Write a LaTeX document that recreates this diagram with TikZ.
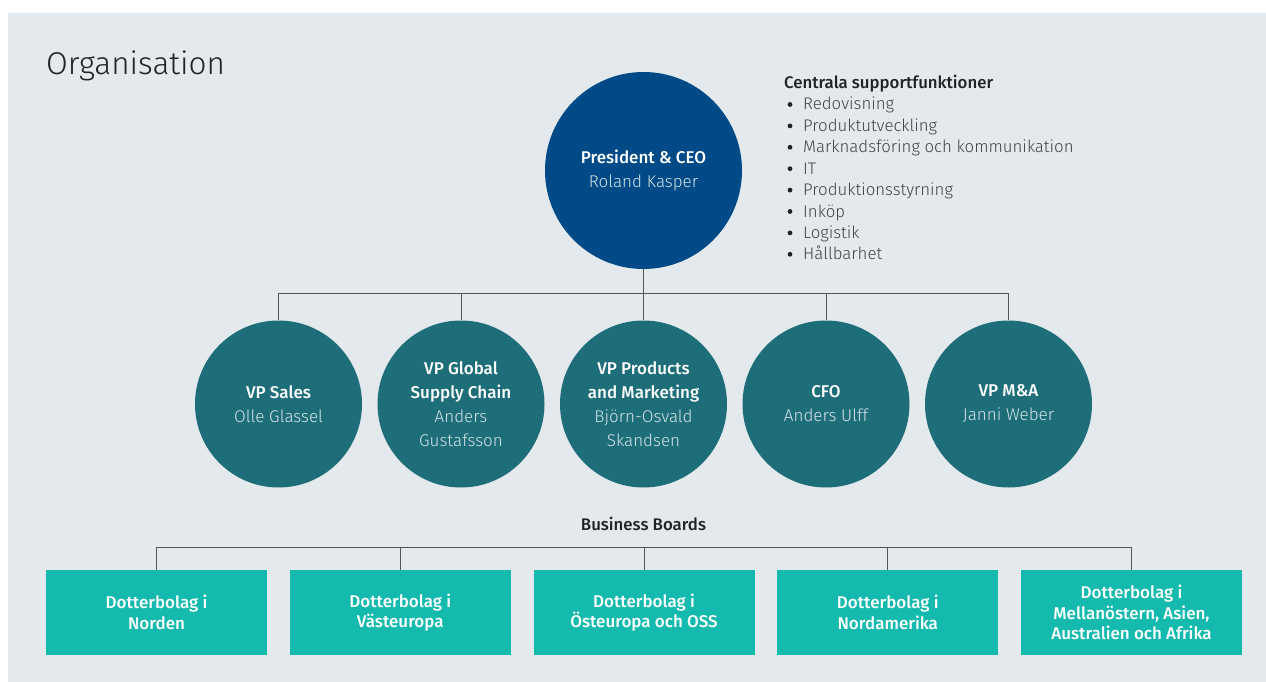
\documentclass[tikz,border=0pt]{standalone}
\usepackage{fontspec}
\setmainfont{Fira Sans}[UprightFont=* Light, BoldFont=* Medium]
\definecolor{bgc}{HTML}{E3E9EC}
\definecolor{ceoc}{HTML}{004A87}
\definecolor{vpc}{HTML}{1E6E7A}
\definecolor{boxc}{HTML}{14BAAE}
\definecolor{linec}{HTML}{555555}
\definecolor{namec}{HTML}{D3E3E6}
\definecolor{titlec}{HTML}{222222}
\begin{document}
\begin{tikzpicture}[x=1pt,y=-1pt,
  ceostyle/.style={circle,fill=ceoc,draw=none,minimum size=197pt,inner sep=0pt,align=center,text=white,font=\fontsize{17}{24}\selectfont},
  vpstyle/.style={circle,fill=vpc,draw=none,minimum size=167pt,inner sep=0pt,align=center,text=white,font=\fontsize{17}{24}\selectfont},
  boxstyle/.style={rectangle,fill=boxc,draw=none,minimum width=221pt,minimum height=85pt,inner sep=0pt,align=center,text=white,font=\bfseries\fontsize{17}{20.5}\selectfont},
  conn/.style={draw=linec,line width=1pt},
  itemtext/.style={anchor=base west,inner sep=0pt,text=titlec!85!white,font=\fontsize{16.8}{20}\selectfont},
]
\useasboundingbox (0,0) rectangle (1266,682);
\fill[white] (0,0) rectangle (1266,682);
\fill[bgc] (8,13) rectangle (1266,682);

\node[anchor=base west,inner sep=0pt,text=titlec,font=\fontsize{31.5}{36}\selectfont] (title) at (46,75) {Organisation};

% CEO
\node[ceostyle] (ceo) at (643.5,170.5) {\textbf{President \& CEO}\\{\color{namec}Roland Kasper}};

% support functions
\node[anchor=base west,inner sep=0pt,text=titlec,font=\bfseries\fontsize{16.8}{20}\selectfont] (sup) at (784,89) {Centrala supportfunktioner};
\foreach \t [count=\i] in {Redovisning,Produktutveckling,Marknadsföring och kommunikation,IT,Produktionsstyrning,Inköp,Logistik,Hållbarhet}{
  \node[itemtext] (it\i) at (803,{110+(\i-1)*21.4}) {\t};
  \fill[titlec] (790,{104.5+(\i-1)*21.4}) circle (2.4pt);
}

% VPs
\node[vpstyle] (vp1) at (278.5,404) {\textbf{VP Sales}\\{\color{namec}Olle Glassel}};
\node[vpstyle] (vp2) at (461,404) {\textbf{VP Global}\\\textbf{Supply Chain}\\{\color{namec}Anders}\\{\color{namec}Gustafsson}};
\node[vpstyle] (vp3) at (643.5,404) {\textbf{VP Products}\\\textbf{and Marketing}\\{\color{namec}Björn-Osvald}\\{\color{namec}Skandsen}};
\node[vpstyle] (vp4) at (826,404) {\textbf{CFO}\\{\color{namec}Anders Ulff}};
\node[vpstyle] (vp5) at (1008.5,404) {\textbf{VP M\&A}\\{\color{namec}Janni Weber}};

\coordinate (h1) at (643.5,293);
\draw[conn] (ceo.south) -- (h1);
\draw[conn] (vp1.north) -- (vp1.north |- h1) -- (vp5.north |- h1) -- (vp5.north);
\foreach \k in {2,3,4}{\draw[conn] (vp\k.north) -- (vp\k.north |- h1);}

% Business boards
\node[inner sep=0pt,text=titlec,font=\bfseries\fontsize{16.8}{20}\selectfont] (bb) at (643.5,524) {Business Boards};

\node[boxstyle] (b1) at (156.5,612.5) {Dotterbolag i\\Norden};
\node[boxstyle] (b2) at (400.25,612.5) {Dotterbolag i\\Västeuropa};
\node[boxstyle] (b3) at (644,612.5) {Dotterbolag i\\Östeuropa och OSS};
\node[boxstyle] (b4) at (887.75,612.5) {Dotterbolag i\\Nordamerika};
\node[boxstyle] (b5) at (1131.5,612.5) {Dotterbolag i\\Mellanöstern, Asien,\\Australien och Afrika};

\coordinate (h2) at (644,547);
\draw[conn] (b1.north) -- (b1.north |- h2) -- (b5.north |- h2) -- (b5.north);
\foreach \k in {2,3,4}{\draw[conn] (b\k.north) -- (b\k.north |- h2);}
\end{tikzpicture}
\end{document}
